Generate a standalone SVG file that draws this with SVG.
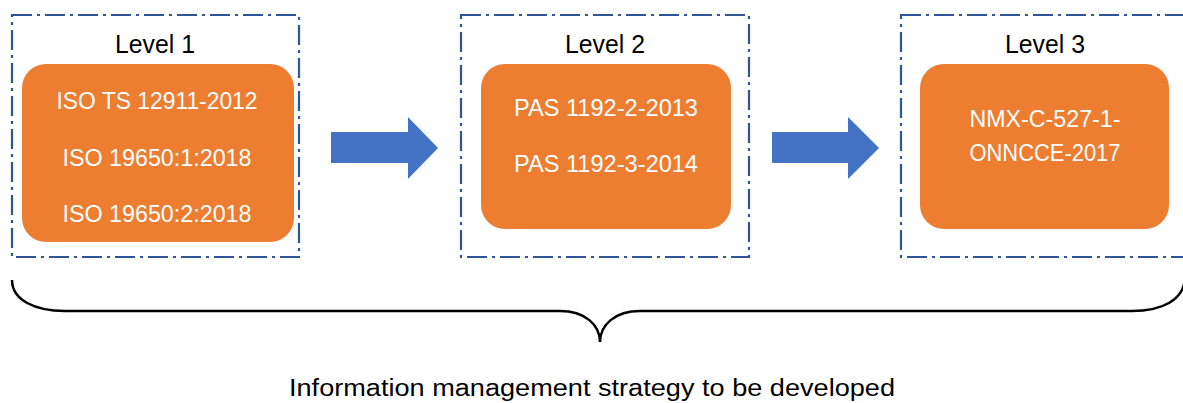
<svg xmlns="http://www.w3.org/2000/svg" width="1183" height="403" viewBox="0 0 1183 403">
<style>
.frame{fill:none;stroke:#2F5597;stroke-width:2.2;stroke-dasharray:20 5 3 5}
.box{fill:#ED7D31}
.lvl{font-family:"Liberation Sans",Arial,sans-serif;font-size:25px;fill:#000;text-anchor:middle}
.std{font-family:"Liberation Sans",Arial,sans-serif;font-size:23px;fill:#fff;text-anchor:middle}
.cap{font-family:"Liberation Sans",Arial,sans-serif;font-size:23px;fill:#000;text-anchor:middle}
.arrow{fill:#4472C4}
.brace{fill:none;stroke:#000;stroke-width:2.5}
</style>
<rect width="1183" height="403" fill="#fff"/>
<g id="level1">
<rect class="frame" x="12" y="15" width="287" height="242"/>
<text class="lvl" x="155" y="53" textLength="80" lengthAdjust="spacingAndGlyphs">Level 1</text>
<rect class="box" x="22" y="64" width="272" height="178" rx="24"/>
<text class="std" x="157" y="109" textLength="201" lengthAdjust="spacingAndGlyphs">ISO TS 12911-2012</text>
<text class="std" x="157" y="166" textLength="189" lengthAdjust="spacingAndGlyphs">ISO 19650:1:2018</text>
<text class="std" x="157" y="222" textLength="189" lengthAdjust="spacingAndGlyphs">ISO 19650:2:2018</text>
</g>
<g id="level2">
<rect class="frame" x="461" y="15" width="288" height="242"/>
<text class="lvl" x="605" y="53" textLength="80" lengthAdjust="spacingAndGlyphs">Level 2</text>
<rect class="box" x="481" y="64" width="250" height="165" rx="24"/>
<text class="std" x="606" y="116" textLength="184" lengthAdjust="spacingAndGlyphs">PAS 1192-2-2013</text>
<text class="std" x="606" y="172" textLength="184" lengthAdjust="spacingAndGlyphs">PAS 1192-3-2014</text>
</g>
<g id="level3">
<rect class="frame" x="901" y="15" width="288" height="242"/>
<text class="lvl" x="1045" y="53" textLength="80" lengthAdjust="spacingAndGlyphs">Level 3</text>
<rect class="box" x="920" y="64" width="249" height="165" rx="24"/>
<text class="std" x="1045" y="127" textLength="151" lengthAdjust="spacingAndGlyphs">NMX-C-527-1-</text>
<text class="std" x="1045" y="161" textLength="151" lengthAdjust="spacingAndGlyphs">ONNCCE-2017</text>
</g>
<g id="connectors">
<polygon class="arrow" points="331,132 408,132 408,117 438,148 408,179 408,163 331,163"/>
<polygon class="arrow" points="772,132 848,132 848,117 879,148 848,179 848,163 772,163"/>
<path class="brace" d="M12,280 C12,300 35,311 65,311 L560,311 C585,311 600,325 600,342 C600,325 615,311 640,311 L1132,311 C1162,311 1184,300 1185,278"/>
</g>
<g id="caption">
<text class="cap" x="592" y="396" textLength="606" lengthAdjust="spacingAndGlyphs">Information management strategy to be developed</text>
</g>
</svg>
